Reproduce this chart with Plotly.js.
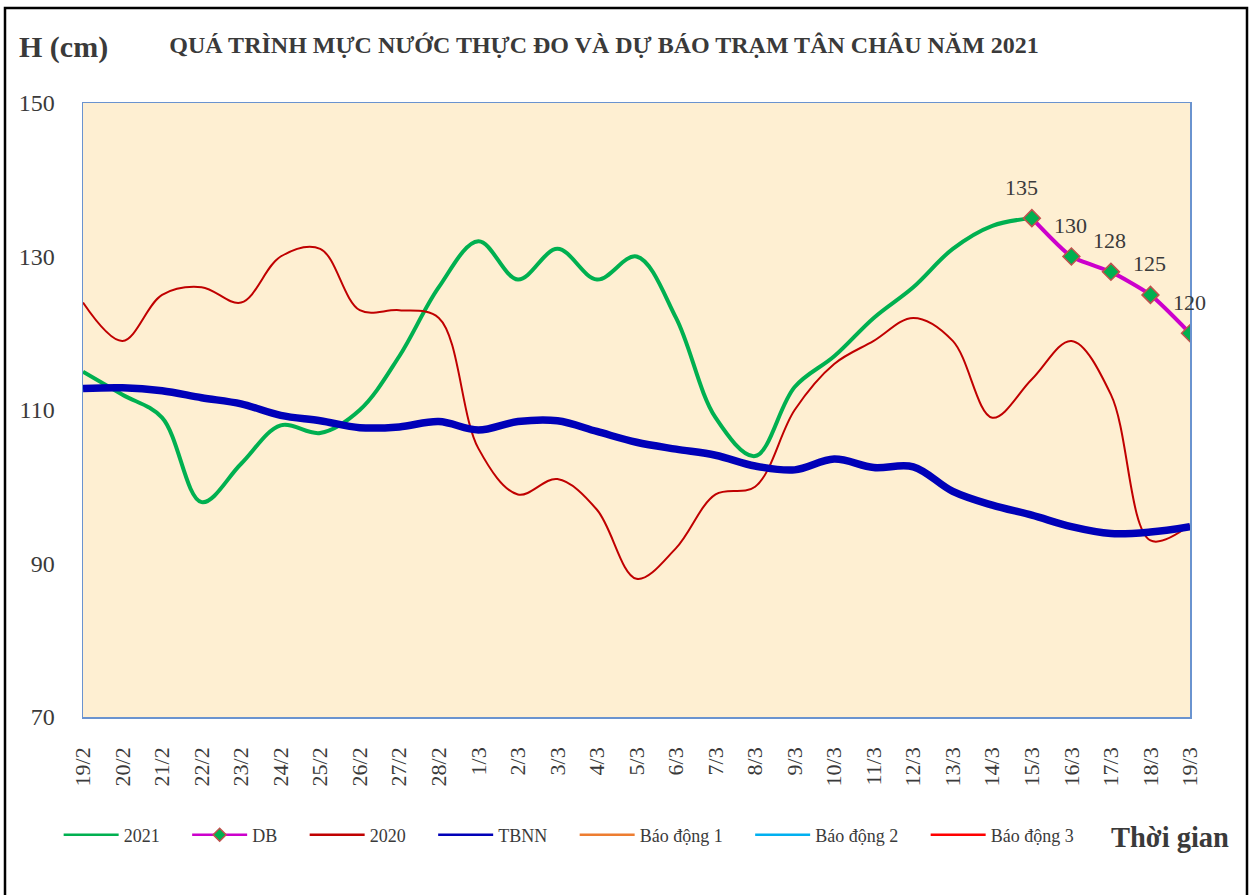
<!DOCTYPE html>
<html>
<head>
<meta charset="utf-8">
<script src="https://cdn.plot.ly/plotly-3.0.1.min.js"></script>
<style>
  html, body { margin: 0; padding: 0; background: #ffffff; }
  #chart { width: 1256px; height: 895px; }
</style>
</head>
<body>
<div id="chart"></div>
<script>
// Categories (dates)
const dates = ["19/2","20/2","21/2","22/2","23/2","24/2","25/2","26/2","27/2","28/2",
               "1/3","2/3","3/3","4/3","5/3","6/3","7/3","8/3","9/3","10/3",
               "11/3","12/3","13/3","14/3","15/3","16/3","17/3","18/3","19/3"];

// Observed 2021 (19/2 .. 15/3)
const obs2021 = [115, 112, 109, 98, 103, 108, 107, 110, 117, 126,
                 132, 127, 131, 127, 130, 122, 109, 104, 113, 117,
                 122, 126, 131, 134, 135];

// Forecast DB (15/3 .. 19/3)
const dbDates = ["15/3","16/3","17/3","18/3","19/3"];
const dbValues = [135, 130, 128, 125, 120];

// Year 2020
const y2020 = [124, 119, 125, 126, 124, 130, 131, 123, 123, 122,
               105, 99, 101, 97, 88, 92, 99, 100, 110, 116,
               119, 122, 119, 109, 114, 119, 112, 93, 95];

// Multi-year average (TBNN)
const tbnn = [112.8, 112.9, 112.5, 111.6, 110.8, 109.3, 108.6, 107.7, 107.8, 108.5,
              107.4, 108.5, 108.6, 107.2, 105.8, 104.9, 104.1, 102.7, 102.2, 103.6,
              102.5, 102.6, 99.4, 97.6, 96.3, 94.8, 93.9, 94.1, 94.8];

// Legend series names and colours
const seriesNames = ["2021", "DB", "2020", "TBNN", "Báo động 1", "Báo động 2", "Báo động 3"];
const seriesColors = ["#00B050", "#CC00CC", "#C00000", "#0000B8", "#ED7D31", "#00B0F0", "#FF0000"];

const yTicks = [70, 90, 110, 130, 150];

const FONT = "Liberation Serif, Times New Roman, serif";
const TXT = "#3a3a3a";
const PAD = "\u00a0\u00a0\u00a0\u00a0\u00a0";

const traces = [
  {
    x: dates.slice(0, obs2021.length), y: obs2021, name: seriesNames[0], showlegend: false,
    type: "scatter", mode: "lines",
    line: { color: seriesColors[0], width: 4, shape: "spline", smoothing: 1 }
  },
  {
    x: dates, y: y2020, name: seriesNames[2], showlegend: false,
    type: "scatter", mode: "lines",
    line: { color: seriesColors[2], width: 2, shape: "spline", smoothing: 1 }
  },
  {
    x: dates, y: tbnn, name: seriesNames[3], showlegend: false,
    type: "scatter", mode: "lines",
    line: { color: seriesColors[3], width: 7.5, shape: "spline", smoothing: 1 }
  },
  {
    x: dbDates, y: dbValues, name: seriesNames[1], showlegend: false,
    type: "scatter", mode: "lines+markers",
    line: { color: seriesColors[1], width: 4, shape: "spline", smoothing: 0.6 },
    marker: { symbol: "diamond", size: 13, color: "#00B050",
              line: { color: "#C0504D", width: 1.5 } }
  }
];
// Legend entries (thin lines as in the reference legend)
seriesNames.forEach((n, i) => {
  const t = {
    x: [null], y: [null], name: n + PAD, type: "scatter",
    mode: i === 1 ? "lines+markers" : "lines",
    line: { color: seriesColors[i], width: 2.5 }
  };
  if (i === 1) {
    t.marker = { symbol: "diamond", size: 10, color: "#00B050", line: { color: "#C0504D", width: 1.5 } };
  }
  traces.push(t);
});

const annotations = dbDates.map((d, i) => ({
  x: d, y: dbValues[i], xref: "x", yref: "y",
  text: String(dbValues[i]), showarrow: false,
  yshift: 31, xshift: i === 0 ? -10 : -1,
  font: { family: FONT, size: 22, color: TXT }
}));
annotations.push({
  xref: "paper", yref: "paper", x: (63 - 83) / 1107, y: (717 - 47) / 614,
  xanchor: "center", yanchor: "middle",
  text: "<b>H (cm)</b>", showarrow: false,
  font: { family: FONT, size: 30, color: TXT }
});
annotations.push({
  xref: "paper", yref: "paper", x: (1231 - 83) / 1107, y: (717 - 837) / 614,
  xanchor: "right", yanchor: "middle",
  text: "<b>Thời gian</b>", showarrow: false,
  font: { family: FONT, size: 28.5, color: TXT }
});

const layout = {
  width: 1256, height: 895,
  margin: { l: 83, r: 66, t: 103, b: 178 },
  paper_bgcolor: "#ffffff",
  plot_bgcolor: "#FEEFD2",
  font: { family: FONT, color: TXT },
  title: {
    text: "<b>QUÁ TRÌNH MỰC NƯỚC THỰC ĐO VÀ DỰ BÁO TRẠM TÂN CHÂU NĂM 2021</b>",
    font: { family: FONT, size: 24, color: TXT },
    xref: "paper", x: (604 - 83) / 1107, xanchor: "center",
    yref: "container", y: 1 - 45 / 895, yanchor: "middle"
  },
  xaxis: {
    type: "category", categoryorder: "array", categoryarray: dates,
    range: [0, dates.length - 1],
    tickangle: -90, tickfont: { family: FONT, size: 22, color: TXT },
    showgrid: false, zeroline: false, ticks: "",
    ticklabelstandoff: 20,
    showline: true, mirror: true, linecolor: "#6A93CF", linewidth: 1.5
  },
  yaxis: {
    range: [70, 150], tickvals: yTicks, ticktext: yTicks.map(String),
    tickfont: { family: FONT, size: 24, color: TXT },
    showgrid: false, zeroline: false, ticks: "",
    ticklabelstandoff: 22,
    showline: true, mirror: true, linecolor: "#6A93CF", linewidth: 1.5
  },
  showlegend: true,
  legend: {
    orientation: "h", x: -0.022, xanchor: "left", y: (717 - 835) / 614, yanchor: "middle",
    font: { family: FONT, size: 18, color: TXT },
    itemwidth: 55, bgcolor: "rgba(0,0,0,0)",
    traceorder: "normal", itemclick: false
  },
  annotations: annotations,
  shapes: [{
    type: "rect", xref: "paper", yref: "paper",
    x0: (5 - 83) / 1107, x1: (1247 - 83) / 1107,
    y0: (717 - 900) / 614, y1: (717 - 8) / 614,
    line: { color: "#000000", width: 2.5 }, fillcolor: "rgba(0,0,0,0)", layer: "above"
  }]
};

Plotly.newPlot("chart", traces, layout, { displayModeBar: false, staticPlot: true });
</script>
</body>
</html>
